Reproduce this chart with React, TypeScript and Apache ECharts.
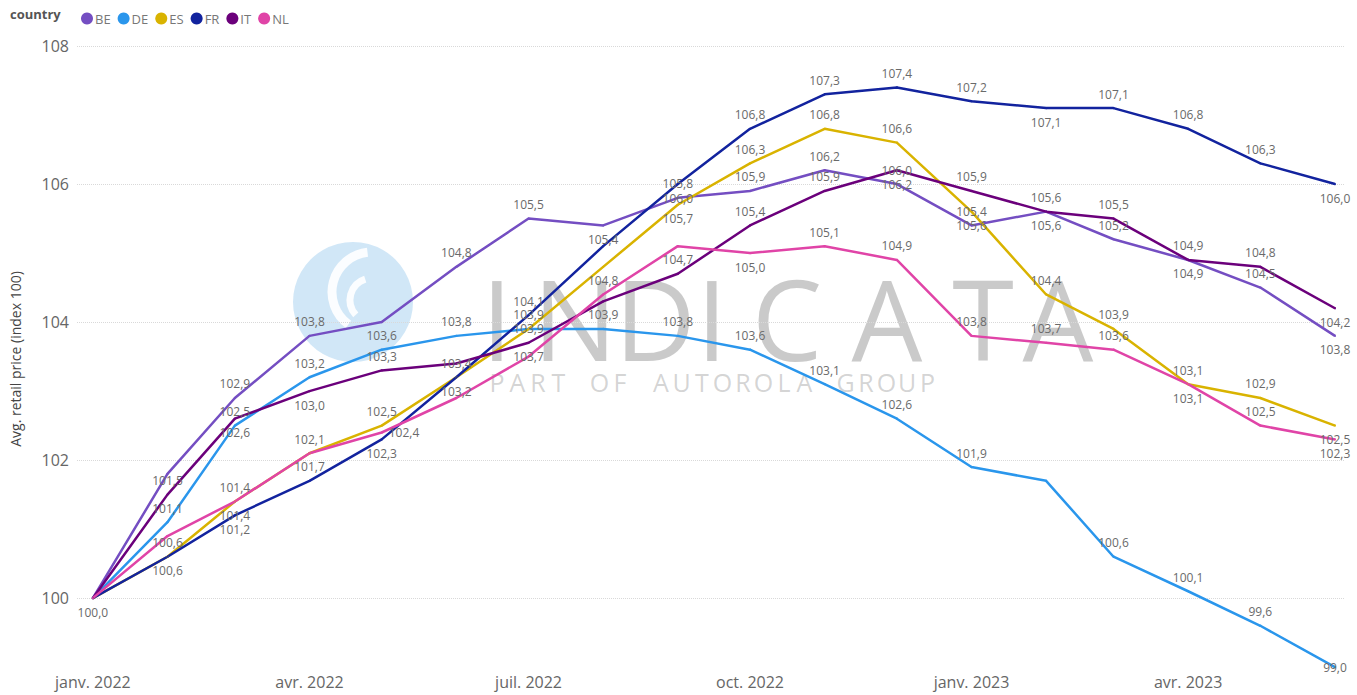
import React, { useEffect, useRef } from "react";
import * as echarts from "echarts";

const months = [
  "2022-01-01", "2022-02-01", "2022-03-01", "2022-04-01", "2022-05-01", "2022-06-01",
  "2022-07-01", "2022-08-01", "2022-09-01", "2022-10-01", "2022-11-01", "2022-12-01",
  "2023-01-01", "2023-02-01", "2023-03-01", "2023-04-01", "2023-05-01", "2023-06-01",
];

const countries = ["BE", "DE", "ES", "FR", "IT", "NL"];

const BE = [100.0, 101.8, 102.9, 103.8, 104.0, 104.8, 105.5, 105.4, 105.8, 105.9, 106.2, 106.0, 105.4, 105.6, 105.2, 104.9, 104.5, 103.8];
const DE = [100.0, 101.1, 102.5, 103.2, 103.6, 103.8, 103.9, 103.9, 103.8, 103.6, 103.1, 102.6, 101.9, 101.7, 100.6, 100.1, 99.6, 99.0];
const ES = [100.0, 100.6, 101.4, 102.1, 102.5, 103.2, 103.9, 104.8, 105.7, 106.3, 106.8, 106.6, 105.6, 104.4, 103.9, 103.1, 102.9, 102.5];
const FR = [100.0, 100.6, 101.2, 101.7, 102.3, 103.2, 104.1, 105.1, 106.0, 106.8, 107.3, 107.4, 107.2, 107.1, 107.1, 106.8, 106.3, 106.0];
const IT = [100.0, 101.5, 102.6, 103.0, 103.3, 103.4, 103.7, 104.3, 104.7, 105.4, 105.9, 106.2, 105.9, 105.6, 105.5, 104.9, 104.8, 104.2];
const NL = [100.0, 100.9, 101.4, 102.1, 102.4, 102.9, 103.5, 104.4, 105.1, 105.0, 105.1, 104.9, 103.8, 103.7, 103.6, 103.1, 102.5, 102.3];

const xTickDates = ["2022-01-01", "2022-04-01", "2022-07-01", "2022-10-01", "2023-01-01", "2023-04-01"];
const xTickLabels = ["janv. 2022", "avr. 2022", "juil. 2022", "oct. 2022", "janv. 2023", "avr. 2023"];
const yTicks = [100, 102, 104, 106, 108];

// label placement per point (style only): t=top, b=bottom, c=centre, r=right, h=hidden
const labelPlacement: Record<string, string> = {
  BE: "hhtthttbtttttbtbtb",
  DE: "htttttctttttthtttc",
  ES: "htbhthtbbtttbttttb",
  FR: "bbbtbbthbttttbtttb",
  IT: "htbbtcbhtttbtttttb",
  NL: "hhttrhhhhbtttttbtb",
};

const colors: Record<string, string> = {
  BE: "#744EC2",
  DE: "#2A96EC",
  ES: "#D9B300",
  FR: "#12239E",
  IT: "#6B007B",
  NL: "#E044A7",
};

const seriesValues: Record<string, number[]> = { BE, DE, ES, FR, IT, NL };

const watermarkLetters = ["I", "N", "D", "I", "C", "A", "T", "A"];
const watermarkCenters = [497, 575, 655, 712, 787, 887, 983, 1058];
const subtitle = "PART OF AUTOROLA GROUP";

function ts(s: string) {
  return new Date(s + "T00:00:00").getTime();
}

function fmt(v: number) {
  return v.toFixed(1).replace(".", ",");
}

export default function App() {
  const ref = useRef<HTMLDivElement>(null);

  useEffect(() => {
    if (!ref.current) return;
    const chart = echarts.init(ref.current, undefined, { renderer: "svg" });

    const posMap: Record<string, string> = { t: "top", b: "bottom", c: "inside", r: "right" };
    const FONT = "Open Sans, Noto Sans, sans-serif";

    const series = countries.map((c) => {
      const place = labelPlacement[c];
      return {
        name: c,
        type: "line",
        symbol: "circle",
        symbolSize: 2,
        z: 3,
        lineStyle: { width: 2.5, color: colors[c] },
        itemStyle: { color: colors[c] },
        emphasis: { disabled: true },
        data: seriesValues[c].map((v, i) => {
          const p = place[i] || "h";
          return {
            value: [ts(months[i]), v],
            label:
              p === "h"
                ? { show: false }
                : {
                    show: true,
                    position: posMap[p] || "top",
                    distance: p === "r" ? 6 : 7,
                    formatter: () => fmt(v),
                    color: "#6a6a6a",
                    fontSize: 12,
                    fontFamily: FONT,
                  },
          };
        }),
      };
    });

    const graphics: any[] = [
      {
        type: "text",
        left: 10,
        top: 7,
        style: { text: "country", fontSize: 13, fontWeight: "bold", fill: "#555", fontFamily: FONT },
      },
      {
        type: "circle",
        shape: { cx: 353, cy: 302, r: 60 },
        style: { fill: "#c9e3f6", opacity: 0.85 },
        z: 0,
        silent: true,
      },
      {
        type: "arc",
        shape: { cx: 372, cy: 292, r: 40, startAngle: 2.2, endAngle: 4.6 },
        style: { stroke: "#ffffff", lineWidth: 9, fill: "none", opacity: 0.9 },
        z: 0,
        silent: true,
      },
      {
        type: "arc",
        shape: { cx: 372, cy: 300, r: 22, startAngle: 2.4, endAngle: 4.4 },
        style: { stroke: "#ffffff", lineWidth: 7, fill: "none", opacity: 0.9 },
        z: 0,
        silent: true,
      },
    ];

    watermarkLetters.forEach((ch, i) => {
      graphics.push({
        type: "text",
        x: watermarkCenters[i],
        y: 317,
        z: 0,
        silent: true,
        style: {
          text: ch,
          fontSize: 112,
          fontWeight: "normal",
          fontFamily: FONT,
          fill: "rgba(150,150,150,0.5)",
          align: "center",
          verticalAlign: "middle",
        },
      });
    });

    subtitle.split("").forEach((ch, i) => {
      if (ch === " ") return;
      graphics.push({
        type: "text",
        x: 497 + i * 20.5,
        y: 382,
        z: 0,
        silent: true,
        style: {
          text: ch,
          fontSize: 25,
          fontWeight: "normal",
          fontFamily: FONT,
          fill: "rgba(160,160,160,0.45)",
          align: "center",
          verticalAlign: "middle",
        },
      });
    });

    const xMin = new Date(2021, 11, 25, 10).getTime();
    const xMax = new Date(2023, 5, 5, 4).getTime();
    const xTickValues = xTickDates.map(ts);

    chart.setOption({
      animation: false,
      backgroundColor: "#ffffff",
      textStyle: { fontFamily: FONT },
      color: countries.map((c) => colors[c]),
      legend: {
        left: 76,
        top: 7,
        icon: "circle",
        itemWidth: 12,
        itemHeight: 12,
        itemGap: 7,
        selectedMode: false,
        textStyle: { fontSize: 13, color: "#777", padding: [0, 0, 0, -3] },
        data: countries,
      },
      grid: { left: 76, right: 12, top: 46, bottom: 23 },
      xAxis: {
        type: "value",
        min: xMin,
        max: xMax,
        axisLine: { show: false },
        axisTick: { show: false, customValues: xTickValues },
        splitLine: { show: false },
        axisLabel: {
          customValues: xTickValues,
          fontSize: 16,
          color: "#666",
          margin: 2,
          formatter: (val: number) => {
            const i = xTickValues.indexOf(val);
            return i >= 0 ? xTickLabels[i] : "";
          },
        },
      },
      yAxis: {
        type: "value",
        min: 98.93,
        max: 108,
        name: "Avg. retail price (index 100)",
        nameLocation: "middle",
        nameGap: 55,
        nameTextStyle: { fontSize: 14, color: "#444" },
        axisLine: { show: false },
        axisTick: { show: false, customValues: yTicks },
        axisLabel: {
          customValues: yTicks,
          fontSize: 16,
          color: "#666",
          margin: 8,
          formatter: (v: number) => String(Math.round(v)),
        },
        splitLine: { show: true, lineStyle: { type: "dotted", color: "#d9d9d9", width: 1 } },
      },
      graphic: graphics,
      series,
    });

    return () => chart.dispose();
  }, []);

  return (
    <div
      ref={ref}
      style={{ position: "fixed", left: 0, top: 0, width: 1357, height: 695, background: "#fff" }}
    />
  );
}
